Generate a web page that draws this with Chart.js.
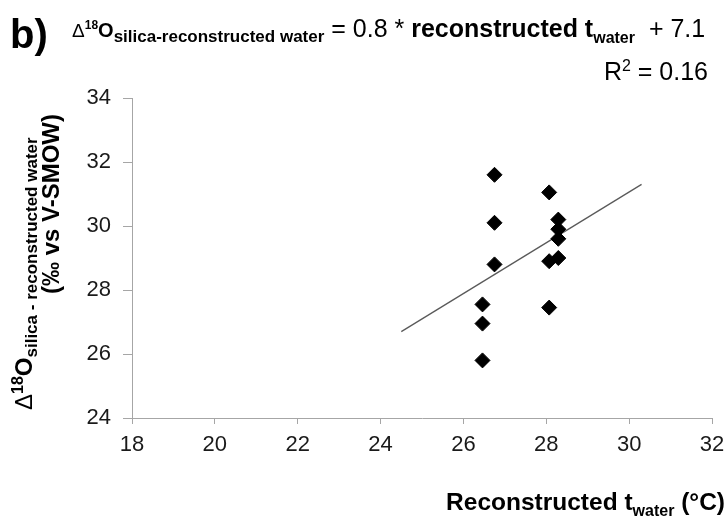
<!DOCTYPE html>
<html>
<head>
<meta charset="utf-8">
<script src="https://cdn.jsdelivr.net/npm/chart.js@4.4.1/dist/chart.umd.min.js"></script>
<style>
  body { margin: 0; background: #fff; }
  #wrap { position: relative; width: 728px; height: 527px; font-family: "Liberation Sans", Arial, sans-serif; color: #000; }
  canvas { position: absolute; left: 0; top: 0; }
  .t { position: absolute; white-space: nowrap; }
  .t span { line-height: 0; }
  .b { font-weight: bold; }
  .rot { transform-origin: 0 0; transform: rotate(-90deg); }
</style>
</head>
<body>
<div id="wrap">
  <canvas id="chart" width="728" height="527"></canvas>

  <!-- panel letter + regression equation -->
  <div class="t b" style="left:10px; top:14px; font-size:40px; line-height:40px;">b)</div>
  <div class="t" style="left:72px; top:16px; font-size:25px; line-height:25px;"><span style="font-size:19px">&Delta;</span><span class="b" style="font-size:12px; position:relative; top:-8px">18</span><span class="b" style="font-size:20px">O</span><span class="b" style="font-size:17px; position:relative; top:5px">silica-reconstructed water</span><span> = 0.8 * </span><span class="b">reconstructed t</span><span class="b" style="font-size:16px; position:relative; top:6px">water</span><span>&nbsp; + 7.1</span></div>
  <div class="t" style="right:20px; top:59px; font-size:25px; line-height:25px;">R<span style="font-size:16px; position:relative; top:-9px">2</span> = 0.16</div>

  <!-- y axis title (two rotated lines) -->
  <div class="t rot" style="left:12px; top:410px; font-size:24px; line-height:24px;"><span>&Delta;</span><span class="b" style="font-size:16px; position:relative; top:-9px">18</span><span class="b">O</span><span class="b" style="font-size:17px; position:relative; top:5px">silica - reconstructed water</span></div>
  <div class="t b rot" style="left:39px; top:294px; font-size:24px; line-height:24px;">(&permil; vs V-SMOW)</div>

  <!-- x axis title -->
  <div class="t b" style="right:3px; top:490px; font-size:24.5px; line-height:24px;">Reconstructed t<span style="font-size:16px; position:relative; top:6px">water</span> (&deg;C)</div>
</div>

<script>
// ========== Data ==========
const tempWater = [26.75, 28.07, 26.75, 28.29, 28.29, 28.29, 28.07, 28.29, 26.75, 26.46, 26.46, 26.46, 28.07];
const deltaO18 = [31.6, 31.05, 30.1, 30.2, 29.9, 29.6, 28.9, 29.0, 28.8, 27.55, 26.95, 25.8, 27.45];
const trendX = [24.5, 30.3];
const trendY = [26.7, 31.3];
const xTicks = [18, 20, 22, 24, 26, 28, 30, 32];
const yTicks = [24, 26, 28, 30, 32, 34];

const axisGrey = '#a6a6a6';
const tickFont = { family: '"Liberation Sans", Arial, sans-serif', size: 22 };

new Chart(document.getElementById('chart'), {
  type: 'scatter',
  data: {
    datasets: [
      {
        data: tempWater.map((x, i) => ({ x, y: deltaO18[i] })),
        pointStyle: 'rectRot',
        pointRadius: 7.5,
        pointHoverRadius: 7.5,
        backgroundColor: '#000',
        borderColor: '#000',
        borderWidth: 1
      },
      {
        type: 'line',
        data: trendX.map((x, i) => ({ x, y: trendY[i] })),
        borderColor: '#5a5a5a',
        borderWidth: 1.3,
        pointRadius: 0,
        fill: false
      }
    ]
  },
  options: {
    responsive: false,
    animation: false,
    layout: { padding: { top: 98, right: 16, left: 0, bottom: 0 } },
    plugins: { legend: { display: false }, tooltip: { enabled: false } },
    scales: {
      x: {
        type: 'linear',
        min: xTicks[0],
        max: xTicks[xTicks.length - 1],
        afterBuildTicks: s => { s.ticks = xTicks.map(v => ({ value: v })); },
        afterFit: s => { s.height = 109; s.paddingLeft = 0; s.paddingRight = 0; },
        border: { color: axisGrey, width: 1 },
        grid: { drawOnChartArea: false, color: axisGrey, tickLength: 6 },
        ticks: { color: '#1a1a1a', font: tickFont, padding: 8, maxRotation: 0 }
      },
      y: {
        type: 'linear',
        min: yTicks[0],
        max: yTicks[yTicks.length - 1],
        afterBuildTicks: s => { s.ticks = yTicks.map(v => ({ value: v })); },
        afterFit: s => { s.width = 132; },
        border: { color: axisGrey, width: 1 },
        grid: { drawOnChartArea: false, color: axisGrey, tickLength: 9 },
        ticks: { color: '#1a1a1a', font: tickFont, padding: 12 }
      }
    }
  }
});
</script>
</body>
</html>
